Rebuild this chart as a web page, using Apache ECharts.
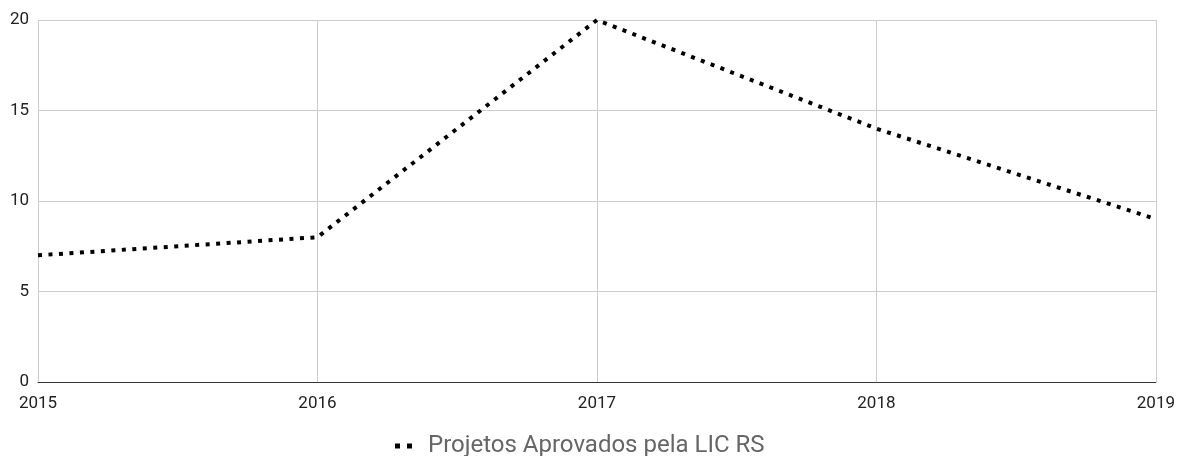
<!DOCTYPE html>
<html>
<head>
<meta charset="utf-8">
<script src="https://cdn.jsdelivr.net/npm/echarts@6/dist/echarts.min.js"></script>
<style>
  html, body { margin: 0; padding: 0; background: #fff; }
  #chart { width: 1178px; height: 456px; }
</style>
</head>
<body>
<div id="chart"></div>
<script>
// Anos e projetos aprovados
const years = ['2015', '2016', '2017', '2018', '2019'];
const approved = [7, 8, 20, 14, 9];
const seriesName = 'Projetos Aprovados pela LIC RS';

const chart = echarts.init(document.getElementById('chart'));
chart.setOption({
  animation: false,
  textStyle: { fontFamily: 'Roboto' },
  grid: { left: 38, right: 20, top: 20, bottom: 74, containLabel: false },
  legend: {
    top: 429,
    left: 390,
    padding: [5, 5],
    data: [seriesName],
    icon: 'path://M0,0h5v5h-5z M12,0h5v5h-5z',
    itemWidth: 17,
    itemHeight: 5,
    textStyle: { fontSize: 24, color: '#666666', padding: [0, 0, 0, 11], fontFamily: 'Roboto' }
  },
  xAxis: {
    type: 'category',
    data: years,
    boundaryGap: false,
    axisLine: { lineStyle: { color: '#333', width: 1 } },
    axisTick: { show: false },
    splitLine: { show: true, lineStyle: { color: '#cccccc', width: 1 } },
    axisLabel: { color: '#222', fontSize: 17, margin: 13 }
  },
  yAxis: {
    type: 'value',
    min: 0,
    max: 20,
    interval: 5,
    axisLine: { show: false },
    axisTick: { show: false },
    splitLine: { lineStyle: { color: '#cccccc', width: 1 } },
    axisLabel: { color: '#222', fontSize: 17, margin: 9 }
  },
  series: [{
    name: seriesName,
    type: 'line',
    data: approved,
    symbol: 'none',
    lineStyle: { color: '#000', width: 4, type: [4, 6.5], cap: 'butt' },
    itemStyle: { color: '#000' }
  }]
});
</script>
</body>
</html>
